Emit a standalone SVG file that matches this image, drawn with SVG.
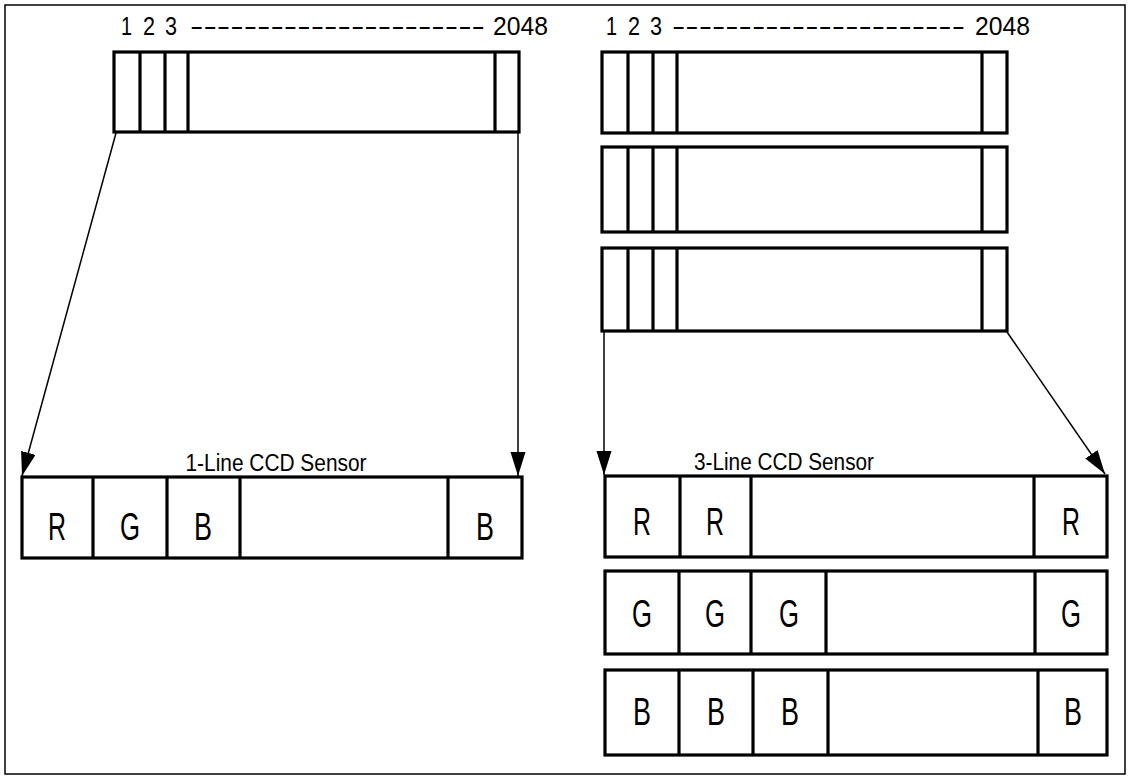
<svg xmlns="http://www.w3.org/2000/svg" width="1130" height="779" viewBox="0 0 1130 779">
<style>
.frame{fill:none;stroke:#000;stroke-width:1.5}
.box{fill:#fff;stroke:#000;stroke-width:3.2}
.div{stroke:#000;stroke-width:3.2}
.conn{stroke:#000;stroke-width:1.5;fill:none}
.num{font-family:"Liberation Sans",Arial,sans-serif;font-size:25px;fill:#000}
.lbl{font-family:"Liberation Sans",Arial,sans-serif;font-size:23px;fill:#000;text-anchor:middle}
.big{font-family:"Liberation Sans",Arial,sans-serif;font-size:39px;fill:#000;text-anchor:middle}
</style>
<defs>
<marker id="arr" markerUnits="userSpaceOnUse" markerWidth="26" markerHeight="16" refX="24" refY="7.5" orient="auto">
<path d="M0,0 L24,7.5 L0,15 z" fill="#000"/>
</marker>
</defs>
<rect class="frame" x="5" y="5" width="1120" height="769"/>

<g id="top-left-sensor">
<text class="num" x="121" y="35" textLength="11" lengthAdjust="spacingAndGlyphs">1</text>
<text class="num" x="143" y="35" textLength="12" lengthAdjust="spacingAndGlyphs">2</text>
<text class="num" x="165" y="35" textLength="12" lengthAdjust="spacingAndGlyphs">3</text>
<text class="num" x="190" y="35" textLength="295" lengthAdjust="spacingAndGlyphs">----------------------</text>
<text class="num" x="493" y="35" textLength="55" lengthAdjust="spacingAndGlyphs">2048</text>
<rect class="box" x="114" y="52" width="405" height="80"/>
<line class="div" x1="140" y1="52" x2="140" y2="132"/>
<line class="div" x1="165" y1="52" x2="165" y2="132"/>
<line class="div" x1="188" y1="52" x2="188" y2="132"/>
<line class="div" x1="495" y1="52" x2="495" y2="132"/>
</g>

<g id="top-right-sensors">
<text class="num" x="606" y="35" textLength="11" lengthAdjust="spacingAndGlyphs">1</text>
<text class="num" x="628" y="35" textLength="12" lengthAdjust="spacingAndGlyphs">2</text>
<text class="num" x="650" y="35" textLength="12" lengthAdjust="spacingAndGlyphs">3</text>
<text class="num" x="672" y="35" textLength="293" lengthAdjust="spacingAndGlyphs">----------------------</text>
<text class="num" x="975" y="35" textLength="55" lengthAdjust="spacingAndGlyphs">2048</text>
<rect class="box" x="602" y="52" width="405" height="81"/>
<line class="div" x1="628" y1="52" x2="628" y2="133"/>
<line class="div" x1="653" y1="52" x2="653" y2="133"/>
<line class="div" x1="677" y1="52" x2="677" y2="133"/>
<line class="div" x1="982" y1="52" x2="982" y2="133"/>
<rect class="box" x="602" y="147" width="405" height="85"/>
<line class="div" x1="628" y1="147" x2="628" y2="232"/>
<line class="div" x1="653" y1="147" x2="653" y2="232"/>
<line class="div" x1="677" y1="147" x2="677" y2="232"/>
<line class="div" x1="982" y1="147" x2="982" y2="232"/>
<rect class="box" x="602" y="248" width="405" height="83"/>
<line class="div" x1="628" y1="248" x2="628" y2="331"/>
<line class="div" x1="653" y1="248" x2="653" y2="331"/>
<line class="div" x1="677" y1="248" x2="677" y2="331"/>
<line class="div" x1="982" y1="248" x2="982" y2="331"/>
</g>

<g id="connectors">
<line class="conn" x1="116" y1="133" x2="22" y2="476" marker-end="url(#arr)"/>
<line class="conn" x1="518" y1="133" x2="518" y2="476" marker-end="url(#arr)"/>
<line class="conn" x1="604" y1="332" x2="604" y2="475" marker-end="url(#arr)"/>
<line class="conn" x1="1007" y1="332" x2="1105" y2="474" marker-end="url(#arr)"/>
</g>

<g id="one-line-ccd">
<text class="lbl" x="276" y="471" textLength="181" lengthAdjust="spacingAndGlyphs">1-Line CCD Sensor</text>
<rect class="box" x="22" y="477" width="500" height="81"/>
<line class="div" x1="93" y1="477" x2="93" y2="558"/>
<line class="div" x1="167" y1="477" x2="167" y2="558"/>
<line class="div" x1="240" y1="477" x2="240" y2="558"/>
<line class="div" x1="448" y1="477" x2="448" y2="558"/>
<text class="big" x="57" y="540" textLength="18" lengthAdjust="spacingAndGlyphs">R</text>
<text class="big" x="130" y="540" textLength="20" lengthAdjust="spacingAndGlyphs">G</text>
<text class="big" x="203" y="540" textLength="18" lengthAdjust="spacingAndGlyphs">B</text>
<text class="big" x="485" y="540" textLength="18" lengthAdjust="spacingAndGlyphs">B</text>
</g>

<g id="three-line-ccd">
<text class="lbl" x="784" y="470" textLength="180" lengthAdjust="spacingAndGlyphs">3-Line CCD Sensor</text>
<g id="row-r">
<rect class="box" x="605" y="476" width="502" height="81"/>
<line class="div" x1="680" y1="476" x2="680" y2="557"/>
<line class="div" x1="751" y1="476" x2="751" y2="557"/>
<line class="div" x1="1034" y1="476" x2="1034" y2="557"/>
<text class="big" x="642" y="535" textLength="18" lengthAdjust="spacingAndGlyphs">R</text>
<text class="big" x="715" y="535" textLength="18" lengthAdjust="spacingAndGlyphs">R</text>
<text class="big" x="1071" y="535" textLength="18" lengthAdjust="spacingAndGlyphs">R</text>
</g>
<g id="row-g">
<rect class="box" x="605" y="571" width="502" height="83"/>
<line class="div" x1="679" y1="571" x2="679" y2="654"/>
<line class="div" x1="751" y1="571" x2="751" y2="654"/>
<line class="div" x1="826" y1="571" x2="826" y2="654"/>
<line class="div" x1="1035" y1="571" x2="1035" y2="654"/>
<text class="big" x="642" y="627" textLength="20" lengthAdjust="spacingAndGlyphs">G</text>
<text class="big" x="715" y="627" textLength="20" lengthAdjust="spacingAndGlyphs">G</text>
<text class="big" x="789" y="627" textLength="20" lengthAdjust="spacingAndGlyphs">G</text>
<text class="big" x="1071" y="627" textLength="20" lengthAdjust="spacingAndGlyphs">G</text>
</g>
<g id="row-b">
<rect class="box" x="605" y="670" width="502" height="85"/>
<line class="div" x1="679" y1="670" x2="679" y2="755"/>
<line class="div" x1="753" y1="670" x2="753" y2="755"/>
<line class="div" x1="828" y1="670" x2="828" y2="755"/>
<line class="div" x1="1038" y1="670" x2="1038" y2="755"/>
<text class="big" x="642" y="725" textLength="18" lengthAdjust="spacingAndGlyphs">B</text>
<text class="big" x="716" y="725" textLength="18" lengthAdjust="spacingAndGlyphs">B</text>
<text class="big" x="790" y="725" textLength="18" lengthAdjust="spacingAndGlyphs">B</text>
<text class="big" x="1073" y="725" textLength="18" lengthAdjust="spacingAndGlyphs">B</text>
</g>
</g>
</svg>
